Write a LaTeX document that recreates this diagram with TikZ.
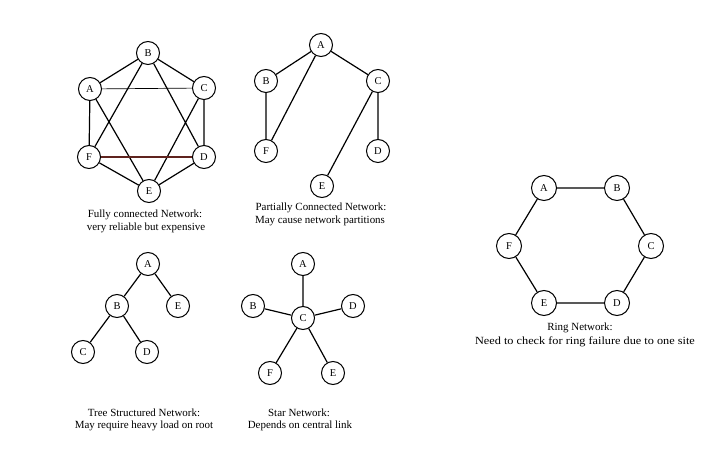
\documentclass[tikz,border=0pt]{standalone}
\usepackage{fontspec}
\setmainfont{Liberation Serif}
\usepackage{graphicx}
\definecolor{brownline}{RGB}{95,35,30}
\begin{document}
\begin{tikzpicture}[x=1bp,y=-1bp,
  nd/.style={circle,draw,line width=1bp,minimum size=23bp,inner sep=0pt,font=\fontsize{10.5}{12}\selectfont},
  rnd/.style={nd,minimum size=25bp},
  ln/.style={line width=1.2bp},
  thinln/.style={line width=0.7bp},
  captext/.style={inner sep=0pt,font=\fontsize{11}{13}\selectfont}]
\useasboundingbox (0,0) rectangle (703,449);
% Fully connected
\node[nd] (fB) at (148,53) {B};
\node[nd] (fA) at (90,89) {A};
\node[nd] (fC) at (204,88) {C};
\node[nd] (fF) at (89,157) {F};
\node[nd] (fD) at (204,157) {D};
\node[nd] (fE) at (149,191) {E};
\draw[ln] (fA)--(fB) (fB)--(fC) (fA)--(fF) (fA)--(fE) (fB)--(fF)
  (fB)--(fD) (fC)--(fD) (fC)--(fE) (fF)--(fE) (fE)--(fD);
\draw[thinln] (fA)--(fC);
\draw[ln,brownline] (fF)--(fD);
\node[captext] (fc1) at (145,215) {Fully connected Network:};
\node[captext] (fc2) at (146,228) {very reliable but expensive};
% Partially connected
\node[nd] (pA) at (321,45) {A};
\node[nd] (pB) at (266,81) {B};
\node[nd] (pC) at (378,81) {C};
\node[nd] (pF) at (266,151) {F};
\node[nd] (pD) at (378,151) {D};
\node[nd] (pE) at (322,186) {E};
\draw[ln] (pA)--(pB) (pA)--(pF) (pA)--(pC) (pB)--(pF) (pC)--(pE) (pC)--(pD);
\node[captext] (pc1) at (321,208) {Partially Connected Network:};
\node[captext] (pc2) at (320,221) {May cause network partitions};
% Ring
\node[rnd] (rA) at (544,188) {A};
\node[rnd] (rB) at (617,188) {B};
\node[rnd] (rF) at (509,246) {F};
\node[rnd] (rC) at (651,246) {C};
\node[rnd] (rE) at (544,303) {E};
\node[rnd] (rD) at (617,303) {D};
\draw[ln] (rA)--(rB) (rB)--(rC) (rC)--(rD) (rD)--(rE) (rE)--(rF) (rF)--(rA);
\node[captext] (rc1) at (580,328) {Ring Network:};
\node[captext] (rc2) at (585,342) {\scalebox{1.12}[1]{Need to check for ring failure due to one site}};
% Tree
\node[nd] (tA) at (148,264) {A};
\node[nd] (tB) at (117,306) {B};
\node[nd] (tE) at (178,306) {E};
\node[nd] (tC) at (83,352) {C};
\node[nd] (tD) at (147,352) {D};
\draw[ln] (tA)--(tB) (tA)--(tE) (tB)--(tC) (tB)--(tD);
\node[captext] (tc1) at (144,413) {Tree Structured Network:};
\node[captext] (tc2) at (144,426) {May require heavy load on root};
% Star
\node[nd] (sA) at (303,264) {A};
\node[nd] (sB) at (253,306) {B};
\node[nd] (sC) at (303,318) {C};
\node[nd] (sD) at (353,306) {D};
\node[nd] (sF) at (270,373) {F};
\node[nd] (sE) at (333,373) {E};
\draw[ln] (sC)--(sA) (sC)--(sB) (sC)--(sD) (sC)--(sF) (sC)--(sE);
\node[captext] (sc1) at (299,413) {Star Network:};
\node[captext] (sc2) at (300,426) {Depends on central link};
\end{tikzpicture}
\end{document}
